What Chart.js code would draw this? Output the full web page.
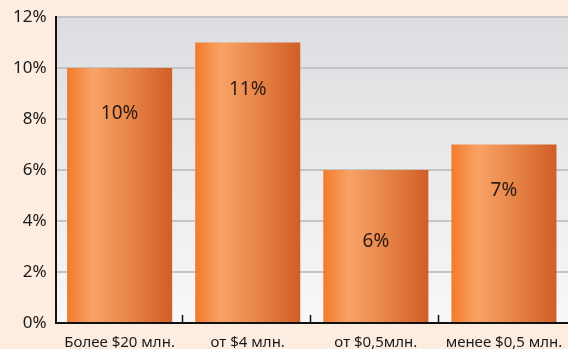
<!doctype html>
<html>
<head>
    <meta charset="utf-8">
    <script src="https://cdn.jsdelivr.net/npm/chart.js"></script>
    <style>
        html, body { margin: 0; padding: 0; background: #fdede1; }
        #wrap { width: 568px; height: 349px; }
    </style>
</head>
<body>
    <div id="wrap"><canvas id="grafico"></canvas></div>

    <script>
        // dados do grafico
        var categorias = ['Более $20 млн.', 'от $4 млн.', 'от $0,5млн.', 'менее $0,5 млн.'];
        var valores = [10, 11, 6, 7];
        var rotulos = ['10%', '11%', '6%', '7%'];

        var larguraBarra = 0.82;

        // fundo cinza com degradê na área do gráfico
        var fundoPlugin = {
            id: 'fundo',
            beforeDraw: function (chart) {
                var a = chart.chartArea;
                var ctx = chart.ctx;
                var g = ctx.createLinearGradient(0, a.top, 0, a.bottom);
                g.addColorStop(0, '#dcdde0');
                g.addColorStop(1, '#f8f8f8');
                ctx.save();
                ctx.fillStyle = g;
                ctx.fillRect(a.left, a.top, a.right - a.left, a.bottom - a.top);
                ctx.restore();
            }
        };

        // rótulos dentro das barras e marcas do eixo x
        var rotulosPlugin = {
            id: 'rotulos',
            afterDatasetsDraw: function (chart) {
                var ctx = chart.ctx;
                var meta = chart.getDatasetMeta(0);
                var a = chart.chartArea;
                ctx.save();
                ctx.fillStyle = '#2a1a12';
                ctx.font = '19px "Noto Sans"';
                ctx.textAlign = 'center';
                ctx.textBaseline = 'middle';
                var desloc = [46, 47, 72, 46];
                meta.data.forEach(function (bar, i) {
                    ctx.fillText(rotulos[i], bar.x, bar.y + desloc[i]);
                });
                // pequenas marcas entre categorias
                ctx.strokeStyle = '#111';
                ctx.lineWidth = 1.5;
                var passo = (a.right - a.left) / categorias.length;
                for (var i = 1; i < categorias.length; i++) {
                    var px = Math.round(a.left + passo * i) - 1.5;
                    ctx.beginPath();
                    ctx.moveTo(px, a.bottom);
                    ctx.lineTo(px, a.bottom - 8);
                    ctx.stroke();
                }
                ctx.restore();
            }
        };

        function corBarra(context) {
            var chart = context.chart;
            if (!chart.chartArea || !chart.scales.x) return '#f47b2a';
            var x = chart.scales.x;
            var centro = x.getPixelForValue(context.dataIndex);
            var passo = (chart.chartArea.right - chart.chartArea.left) / categorias.length;
            var meia = passo * larguraBarra / 2;
            var g = chart.ctx.createLinearGradient(centro - meia, 0, centro + meia, 0);
            g.addColorStop(0, '#f37a2b');
            g.addColorStop(0.25, '#f8a366');
            g.addColorStop(0.6, '#e78448');
            g.addColorStop(1, '#d15e27');
            return g;
        }

        var grafico = new Chart(document.getElementById('grafico').getContext('2d'), {
            type: 'bar',
            data: {
                labels: categorias,
                datasets: [{
                    data: valores,
                    backgroundColor: corBarra,
                    borderWidth: 0,
                    barPercentage: 1,
                    categoryPercentage: larguraBarra
                }]
            },
            plugins: [fundoPlugin, rotulosPlugin],
            options: {
                responsive: true,
                maintainAspectRatio: false,
                animation: false,
                layout: {
                    padding: { top: 17, left: 4, right: 0, bottom: 0 }
                },
                plugins: {
                    legend: { display: false },
                    tooltip: { enabled: false }
                },
                scales: {
                    x: {
                        grid: { display: false, drawTicks: false },
                        border: { color: '#111', width: 2 },
                        ticks: {
                            color: '#1a1a1a',
                            font: { family: 'Noto Sans', size: 15 },
                            padding: 11,
                            maxRotation: 0,
                            autoSkip: false
                        },
                        afterFit: function (scale) {
                            scale.height = 26;
                            scale.paddingLeft = 0;
                            scale.paddingRight = 0;
                        }
                    },
                    y: {
                        min: 0,
                        max: 12,
                        grid: { color: '#c3c4c6', lineWidth: 2, drawTicks: false },
                        border: { color: '#111', width: 2 },
                        ticks: {
                            stepSize: 2,
                            color: '#1a1a1a',
                            font: { family: 'Noto Sans', size: 17 },
                            padding: 9,
                            callback: function (v) { return v + '%'; }
                        },
                        afterFit: function (scale) {
                            scale.paddingTop = 0;
                            scale.paddingBottom = 0;
                        }
                    }
                }
            }
        });
    </script>
</body>
</html>
